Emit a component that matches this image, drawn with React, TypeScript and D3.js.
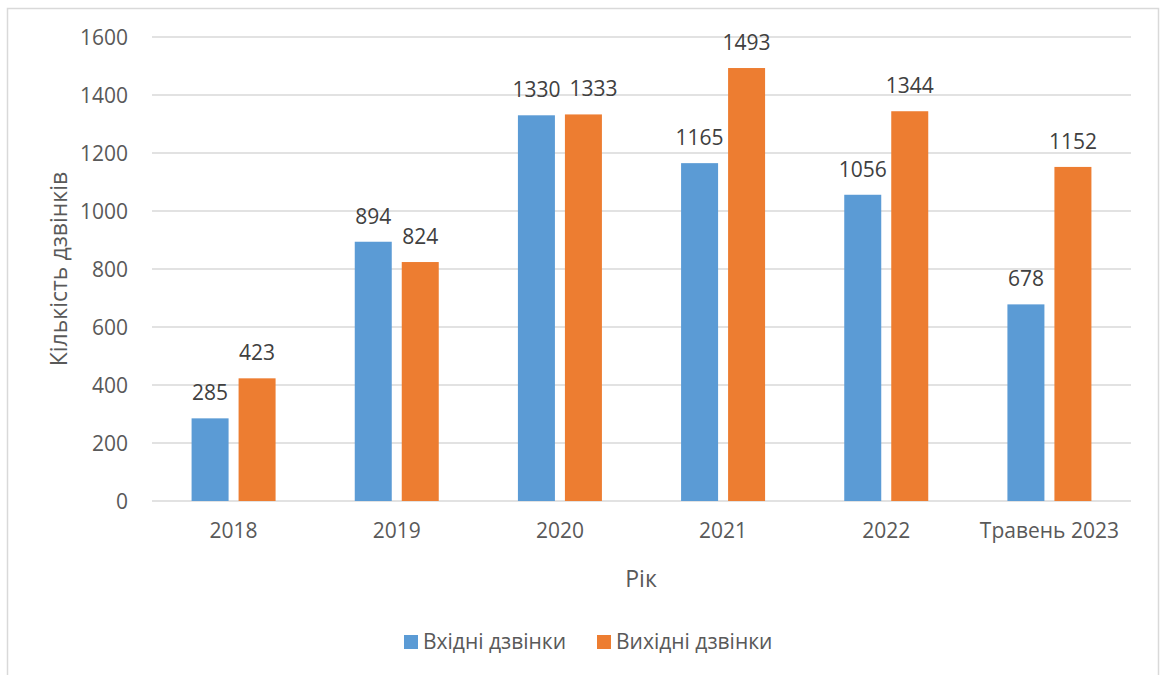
import React from "react";
import * as d3 from "d3";

const categories = ["2018", "2019", "2020", "2021", "2022", "Травень 2023"];
const incoming = [285, 894, 1330, 1165, 1056, 678];
const outgoing = [423, 824, 1333, 1493, 1344, 1152];
const seriesNames = ["Вхідні дзвінки", "Вихідні дзвінки"];
const yTicks = [0, 200, 400, 600, 800, 1000, 1200, 1400, 1600];
const xTitle = "Рік";
const yTitle = "Кількість дзвінків";

const W = 1166;
const H = 675;
const colors = ["#5b9bd5", "#ed7d31"];
const font = "'Open Sans', sans-serif";
const textColor = "#595959";

export default function App() {
  const left = 152, right = 1131, top = 37, bottom = 501;
  const x = d3.scaleBand<string>().domain(categories).range([left, right]);
  const y = d3.scaleLinear().domain([0, 1600]).range([bottom, top]);
  const barW = 37;
  const gap = 10;
  const series = [incoming, outgoing];
  const labelFs = 21;
  const estW = (v: number) => String(v).length * 0.572 * labelFs;

  return (
    <svg width={W} height={H} style={{ position: "absolute", left: 0, top: 0, background: "#fff" }} fontFamily={font}>
      <rect x={7.5} y={8.5} width={1151} height={700} fill="#fff" stroke="#d9d9d9" strokeWidth={1.5} />
      {yTicks.map((t) => (
        <g key={t}>
          <line x1={left} x2={right} y1={y(t)} y2={y(t)} stroke="#d9d9d9" strokeWidth={1.3} />
          <text x={128} y={y(t) + 8} textAnchor="end" fontSize={21} fill={textColor}>{t}</text>
        </g>
      ))}
      {categories.map((c, i) => {
        const cx = x(c)! + x.bandwidth() / 2;
        const bxs = [cx - gap / 2 - barW, cx + gap / 2];
        const lcx = bxs.map((bx) => bx + barW / 2);
        const ly = series.map((s) => y(s[i]) - 18);
        // avoid overlapping labels at similar heights
        if (Math.abs(ly[0] - ly[1]) < 20) {
          const overlap = lcx[0] + estW(series[0][i]) / 2 + 9 - (lcx[1] - estW(series[1][i]) / 2);
          if (overlap > 0) lcx[1] += overlap;
        }
        return (
          <g key={c}>
            {series.map((s, si) => {
              const v = s[i];
              return (
                <g key={si}>
                  <rect x={bxs[si]} y={y(v)} width={barW} height={y(0) - y(v)} fill={colors[si]} />
                  <text x={lcx[si]} y={ly[si]} textAnchor="middle" fontSize={labelFs} fill="#404040">{v}</text>
                </g>
              );
            })}
            <text x={cx} y={538} textAnchor="middle" fontSize={21} fill={textColor}>{c}</text>
          </g>
        );
      })}
      <text x={641} y={587} textAnchor="middle" fontSize={23} fill={textColor}>{xTitle}</text>
      <text transform={`translate(67,${(top + bottom) / 2}) rotate(-90)`} textAnchor="middle" fontSize={23} fill={textColor}>{yTitle}</text>
      {seriesNames.map((n, i) => {
        const lx = i === 0 ? 404 : 597;
        return (
          <g key={n}>
            <rect x={lx} y={635} width={14} height={14} fill={colors[i]} />
            <text x={lx + 19} y={649} fontSize={21} fill={textColor}>{n}</text>
          </g>
        );
      })}
    </svg>
  );
}
